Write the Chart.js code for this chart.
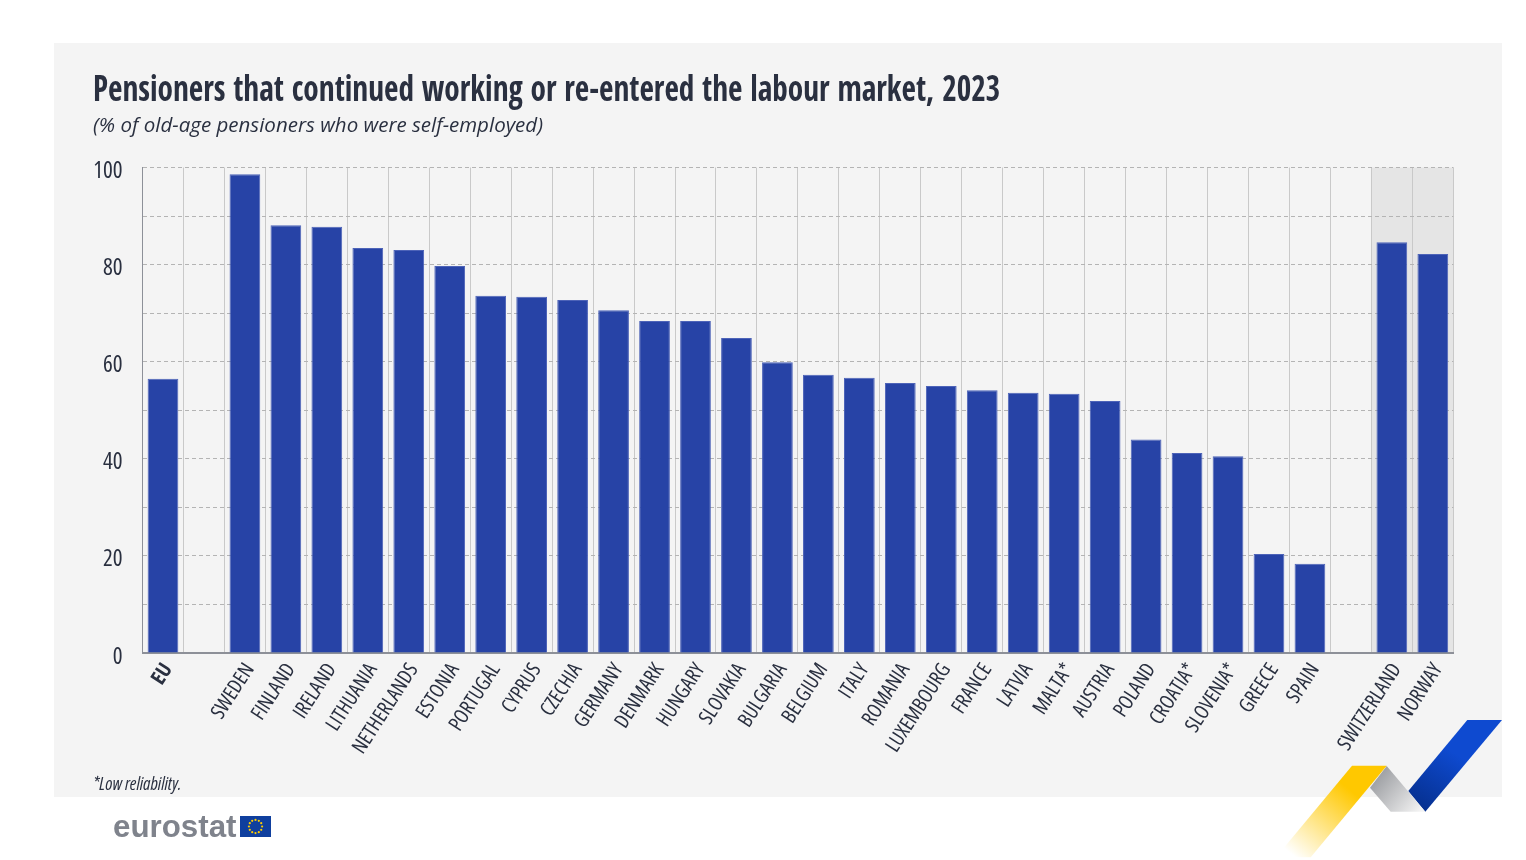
<!DOCTYPE html>
<html>
<head>
<meta charset="utf-8">
<title>Pensioners that continued working</title>
<script src="https://cdn.jsdelivr.net/npm/chart.js@4/dist/chart.umd.min.js"></script>
<style>
    html, body { margin: 0; padding: 0; background: #fff; }
    body { position: relative; width: 1526px; height: 860px; overflow: hidden; }
    #panel { position: absolute; left: 54px; top: 43px; width: 1448px; height: 754px; background: #f4f4f4; }
    #chart { position: absolute; left: 0; top: 0; }
    .txt { position: absolute; color: #2a3040; white-space: nowrap; }
    #title { left: 93px; top: 64px; font: bold 35px "Open Sans Condensed", sans-serif; transform: scaleX(0.894); transform-origin: left top; }
    #subtitle { left: 93px; top: 110px; font: italic 20.5px "Open Sans", sans-serif; }
    #note { left: 93px; top: 771px; font: italic 17.8px "Open Sans", sans-serif; font-stretch: 75%; }
    #brand { left: 113px; top: 809px; font: bold 31.3px "Liberation Sans", sans-serif; color: #7f838c; }
    svg { position: absolute; left: 0; top: 0; }
</style>
</head>
<body>
<div id="panel"></div>
<svg width="1526" height="860" id="art">
    <defs>
        <linearGradient id="gBlue" gradientUnits="userSpaceOnUse" x1="1450" y1="750" x2="1415" y2="805">
            <stop offset="0" stop-color="#0e4ad0"/><stop offset="1" stop-color="#06308f"/>
        </linearGradient>
        <linearGradient id="gGrey" gradientUnits="userSpaceOnUse" x1="1375" y1="775" x2="1420" y2="812">
            <stop offset="0" stop-color="#9a9ca0"/><stop offset="1" stop-color="#f4f4f4"/>
        </linearGradient>
        <linearGradient id="gYellow" gradientUnits="userSpaceOnUse" x1="1350" y1="790" x2="1295" y2="857">
            <stop offset="0" stop-color="#ffc800"/><stop offset="1" stop-color="#ffffff"/>
        </linearGradient>
    </defs>
    <polygon points="1467.3,720 1502,720 1425.3,811.7 1408.3,791" fill="url(#gBlue)"/>
    <polygon points="1386.7,766 1425.3,811.7 1390.7,811.7 1370,787.7" fill="url(#gGrey)"/>
    <polygon points="1352,765.7 1386.7,765.7 1310.7,857.3 1276,857.3" fill="url(#gYellow)"/>
    <rect x="240" y="816" width="31" height="21" fill="#0f3f9e"/>
    <g id="stars" fill="#ffcc00"></g>
</svg>
<canvas id="chart" width="1526" height="860"></canvas>
<div class="txt" id="title">Pensioners that continued working or re-entered the labour market, 2023</div>
<div class="txt" id="subtitle">(% of old-age pensioners who were self-employed)</div>
<div class="txt" id="note">*Low reliability.</div>
<div class="txt" id="brand">eurostat</div>

<script>
"use strict";

const categories = ['EU', '', 'SWEDEN', 'FINLAND', 'IRELAND', 'LITHUANIA', 'NETHERLANDS', 'ESTONIA', 'PORTUGAL',
    'CYPRUS', 'CZECHIA', 'GERMANY', 'DENMARK', 'HUNGARY', 'SLOVAKIA', 'BULGARIA', 'BELGIUM', 'ITALY', 'ROMANIA',
    'LUXEMBOURG', 'FRANCE', 'LATVIA', 'MALTA*', 'AUSTRIA', 'POLAND', 'CROATIA*', 'SLOVENIA*', 'GREECE', 'SPAIN',
    '', 'SWITZERLAND', 'NORWAY'];
const shares = [56.5, null, 98.6, 88.1, 87.8, 83.4, 83.0, 79.7, 73.6,
    73.4, 72.7, 70.6, 68.4, 68.4, 64.9, 59.9, 57.3, 56.7, 55.6,
    55.0, 54.1, 53.6, 53.4, 51.9, 44.0, 41.2, 40.5, 20.4, 18.4,
    null, 84.6, 82.2];
const shadedCategories = ['SWITZERLAND', 'NORWAY'];

const labelColor = '#2a3040';
const axisFont = '"Open Sans", sans-serif';

/* EU flag stars, only decoration for the logo. */
const stars = document.getElementById('stars');
for (let i = 0; i < 12; i++) {
    const a = i * Math.PI / 6;
    const c = document.createElementNS('http://www.w3.org/2000/svg', 'circle');
    c.setAttribute('cx', 255.5 + 6.6 * Math.cos(a));
    c.setAttribute('cy', 826.5 + 6.6 * Math.sin(a));
    c.setAttribute('r', 1.1);
    stars.appendChild(c);
}

/* grey band behind the non-EU countries, below the grid. */
const shadeBand = {
    id: 'shadeBand',
    beforeDraw(chart) {
        const { ctx, scales: { x, y } } = chart;
        const half = (x.getPixelForValue(1) - x.getPixelForValue(0)) / 2;
        const left = x.getPixelForValue(categories.indexOf(shadedCategories[0])) - half;
        const right = x.getPixelForValue(categories.indexOf(shadedCategories[1])) + half;
        ctx.save();
        ctx.fillStyle = '#e5e5e5';
        ctx.fillRect(left, y.getPixelForValue(100), right - left, y.getPixelForValue(0) - y.getPixelForValue(100));
        ctx.restore();
    }
};

/* condensed axis text: the stretch only holds when set right after the font, so set it on every draw. */
const canvas = document.getElementById('chart');
const canvasCtx = canvas.getContext('2d');
const plainFillText = canvasCtx.fillText.bind(canvasCtx);
canvasCtx.fillText = (...args) => {
    canvasCtx.fontStretch = 'condensed';
    plainFillText(...args);
};

new Chart(canvas, {
    type: 'bar',
    plugins: [shadeBand],
    data: {
        labels: categories,
        datasets: [{
            data: shares,
            backgroundColor: '#2743a6',
            borderColor: '#4d63b8',
            borderWidth: 1,
            barPercentage: 0.75,
            categoryPercentage: 1
        }]
    },
    options: {
        responsive: false,
        animation: false,
        layout: { padding: { left: 92.5, right: 72.7, top: 167.5, bottom: 0 } },
        plugins: { legend: { display: false }, title: { display: false }, tooltip: { enabled: false } },
        scales: {
            x: {
                offset: true,
                afterFit: (scale) => { scale.height = 207; },
                grid: { color: '#c9c9c9', lineWidth: 1, drawTicks: false },
                border: { color: '#8d9098', width: 2 },
                ticks: {
                    autoSkip: false,
                    maxRotation: 57,
                    minRotation: 57,
                    padding: 6,
                    labelOffset: 5,
                    color: labelColor,
                    font: (ctx) => ({
                        family: axisFont,
                        size: 20.5,
                        weight: ctx.index === 0 ? 'bold' : undefined
                    })
                }
            },
            y: {
                min: 0,
                max: 100,
                afterFit: (scale) => { scale.width = 50; },
                grid: { color: '#b4b4b4', lineWidth: 1, drawTicks: false },
                border: { color: '#8d9098', width: 1, dash: [4, 3] },
                ticks: {
                    stepSize: 10,
                    padding: 20,
                    labelOffset: 4,
                    color: labelColor,
                    font: { family: axisFont, size: 23 },
                    callback: (v) => (v % 20 === 0 ? v : '')
                }
            }
        }
    }
});
</script>
</body>
</html>
